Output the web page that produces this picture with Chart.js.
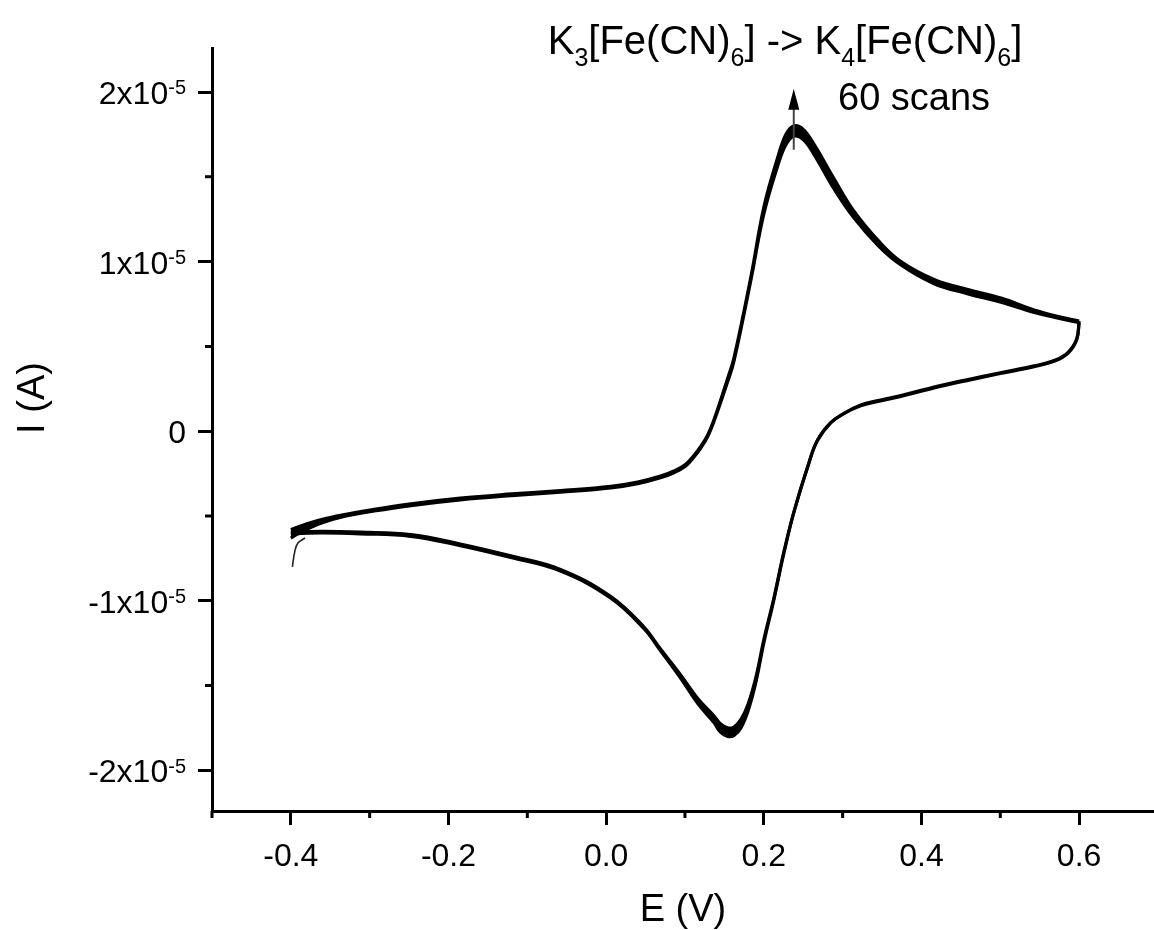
<!DOCTYPE html>
<html>
<head>
<meta charset="utf-8">
<title>K3[Fe(CN)6] cyclic voltammogram</title>
<script src="https://cdn.jsdelivr.net/npm/chart.js@4.4.1/dist/chart.umd.min.js"></script>
<style>
  html, body { margin: 0; padding: 0; background: #fff; overflow: hidden; }
  canvas { display: block; }
</style>
</head>
<body>
<canvas id="cv" width="1154" height="930"></canvas>
<script>
// ── DATA ─────────────────────────────────────────────────────────────
// anodic sweep, -0.4 V -> 0.6 V (current in µA)
const E_FWD = [-0.400, -0.385, -0.360, -0.330, -0.300, -0.250, -0.185, -0.120, -0.058, 0.006,
               0.040, 0.069, 0.086, 0.101, 0.111, 0.120, 0.129, 0.137, 0.154, 0.162,
               0.184, 0.200, 0.218, 0.228, 0.238, 0.250, 0.264, 0.289, 0.314, 0.345,
               0.374, 0.416, 0.459, 0.501, 0.543, 0.575, 0.600];
const I_FWD_SCAN1 = [-6.3, -5.9, -5.4, -5.0, -4.75, -4.4, -4.05, -3.8, -3.6, -3.35,
                     -3.1, -2.75, -2.45, -2.05, -1.55, -1.0, -0.3, 0.6, 2.9, 4.1,
                     9.0, 12.8, 15.7, 16.9, 17.4, 17.2, 16.3, 14.3, 12.6, 10.95,
                     9.8, 8.7, 8.1, 7.6, 7.0, 6.65, 6.4];
const I_FWD_SCAN60 = [-5.8, -5.55, -5.2, -4.9, -4.65, -4.3, -3.95, -3.7, -3.5, -3.25,
                      -3.0, -2.65, -2.35, -1.95, -1.45, -0.9, -0.2, 0.7, 3.1, 4.3,
                      9.2, 13.2, 16.2, 17.5, 18.0, 17.8, 16.9, 14.9, 13.0, 11.25,
                      10.0, 8.95, 8.35, 7.85, 7.15, 6.75, 6.5];

// cathodic sweep, 0.6 V -> -0.4 V
const E_REV = [0.600, 0.597, 0.586, 0.570, 0.543, 0.500, 0.459, 0.416, 0.374, 0.345,
               0.323, 0.302, 0.285, 0.268, 0.257, 0.238, 0.225, 0.213, 0.200, 0.190,
               0.180, 0.171, 0.162, 0.154, 0.145, 0.137, 0.116, 0.095, 0.069, 0.048,
               0.006, -0.058, -0.121, -0.185, -0.248, -0.312, -0.360, -0.400];
const I_REV_SCAN1 = [6.4, 5.4, 4.6, 4.15, 3.8, 3.4, 3.0, 2.55, 2.05, 1.75,
                     1.5, 1.05, 0.5, -0.55, -1.9, -4.8, -7.2, -9.8, -12.3, -14.5,
                     -16.1, -17.0, -17.45, -17.5, -17.25, -16.8, -15.75, -14.4, -12.85, -11.55,
                     -9.75, -8.15, -7.35, -6.65, -6.1, -5.95, -5.9, -5.95];
const I_REV_SCAN60 = [6.5, 5.45, 4.65, 4.2, 3.85, 3.45, 3.05, 2.6, 2.1, 1.8,
                      1.55, 1.05, 0.5, -0.55, -1.9, -4.8, -7.3, -9.9, -12.5, -14.8,
                      -16.5, -17.5, -17.95, -18.0, -17.75, -17.2, -16.05, -14.6, -12.95, -11.65,
                      -9.85, -8.25, -7.45, -6.75, -6.2, -6.05, -6.0, -6.05];

// very first points of scan 1 (open circuit start)
const E_START = [-0.398, -0.395, -0.391, -0.382];
const I_START = [-8.0, -7.1, -6.6, -6.3];

// axes
const X_TICKS = [-0.4, -0.2, 0.0, 0.2, 0.4, 0.6];
const X_TICK_LABELS = ['-0.4', '-0.2', '0.0', '0.2', '0.4', '0.6'];
const X_MINOR = [-0.5, -0.3, -0.1, 0.1, 0.3, 0.5];
const Y_TICKS = [-2e-5, -1e-5, 0, 1e-5, 2e-5];
const Y_TICK_BASE = ['-2x10', '-1x10', '0', '1x10', '2x10'];
const Y_TICK_EXP = ['-5', '-5', '', '-5', '-5'];
const Y_MINOR = [-1.5e-5, -0.5e-5, 0.5e-5, 1.5e-5];

// scan-growth arrow at the anodic peak (µA)
const ARROW_E = 0.238;
const ARROW_FROM = 16.6;
const ARROW_TO = 20.2;

const TITLE_PARTS = [['K', 0], ['3', -1], ['[Fe(CN)', 0], ['6', -1], ['] -> K', 0],
                     ['4', -1], ['[Fe(CN)', 0], ['6', -1], [']', 0]];

// ── HELPERS ──────────────────────────────────────────────────────────
const FONT = '"Liberation Sans", Arial, sans-serif';
const uA = v => v * 1e-6;
const points = (xs, ys) => xs.map((x, i) => ({ x, y: uA(ys[i]) }));

// text with sub/superscript pieces: shift 1 = sup, -1 = sub
function drawRich(ctx, parts, x, y, size, align) {
  const small = Math.round(size * 0.62);
  const widths = parts.map(([t, s]) => {
    ctx.font = `${s ? small : size}px ${FONT}`;
    return ctx.measureText(t).width;
  });
  const total = widths.reduce((a, b) => a + b, 0);
  let cx = align === 'center' ? x - total / 2 : align === 'right' ? x - total : x;
  ctx.textAlign = 'left';
  ctx.textBaseline = 'alphabetic';
  parts.forEach(([t, s], i) => {
    ctx.font = `${s ? small : size}px ${FONT}`;
    const dy = s === 1 ? -size * 0.3 : s === -1 ? size * 0.3 : 0;
    ctx.fillText(t, cx, y + dy);
    cx += widths[i];
  });
}

// ── DECORATIONS (minor ticks, labels, arrow) ─────────────────────────
const decorations = {
  id: 'decorations',
  afterDraw(chart) {
    const { ctx, chartArea: area, scales: { x, y } } = chart;
    ctx.save();

    // minor ticks
    ctx.strokeStyle = '#000';
    ctx.lineWidth = 3;
    ctx.beginPath();
    X_MINOR.forEach(v => {
      const px = x.getPixelForValue(v);
      ctx.moveTo(px, area.bottom);
      ctx.lineTo(px, area.bottom + 7);
    });
    Y_MINOR.forEach(v => {
      const py = y.getPixelForValue(v);
      ctx.moveTo(area.left - 7, py);
      ctx.lineTo(area.left, py);
    });
    ctx.stroke();

    ctx.fillStyle = '#000';

    // x tick labels
    ctx.font = `32px ${FONT}`;
    ctx.textAlign = 'center';
    ctx.textBaseline = 'alphabetic';
    X_TICKS.forEach((v, i) => ctx.fillText(X_TICK_LABELS[i], x.getPixelForValue(v), 866));

    // y tick labels with exponent
    Y_TICKS.forEach((v, i) => {
      const py = y.getPixelForValue(v);
      const parts = [[Y_TICK_BASE[i], 0]];
      if (Y_TICK_EXP[i]) parts.push([Y_TICK_EXP[i], 1]);
      drawRich(ctx, parts, 186, py + 12, 32, 'right');
    });

    // axis titles
    ctx.font = `38px ${FONT}`;
    ctx.textAlign = 'center';
    ctx.fillText('E (V)', (area.left + area.right) / 2, 921);
    ctx.save();
    ctx.translate(44, 398);
    ctx.rotate(-Math.PI / 2);
    ctx.fillText('I (A)', 0, 0);
    ctx.restore();

    // reaction and scan count
    drawRich(ctx, TITLE_PARTS, 785, 54, 40, 'center');
    ctx.font = `38px ${FONT}`;
    ctx.textAlign = 'left';
    ctx.fillText('60 scans', 838, 110);

    // arrow: peak current grows with scan number
    const ax = x.getPixelForValue(ARROW_E);
    const y0 = y.getPixelForValue(uA(ARROW_FROM));
    const y1 = y.getPixelForValue(uA(ARROW_TO));
    ctx.strokeStyle = '#444';
    ctx.lineWidth = 2;
    ctx.beginPath();
    ctx.moveTo(ax, y0);
    ctx.lineTo(ax, y1 + 16);
    ctx.stroke();
    ctx.beginPath();
    ctx.moveTo(ax, y1);
    ctx.lineTo(ax - 5.5, y1 + 21);
    ctx.lineTo(ax + 5.5, y1 + 21);
    ctx.closePath();
    ctx.fill();

    ctx.restore();
  }
};

// ── CHART ────────────────────────────────────────────────────────────
const line = { showLine: true, borderColor: '#000', borderWidth: 3.2, pointRadius: 0, tension: 0.4 };

new Chart(document.getElementById('cv'), {
  type: 'scatter',
  data: {
    datasets: [
      { ...line, label: 'scan 1 (anodic)', data: points(E_FWD, I_FWD_SCAN1), fill: false },
      { ...line, label: 'scan 60 (anodic)', data: points(E_FWD, I_FWD_SCAN60), fill: '-1', backgroundColor: '#000' },
      { ...line, label: 'scan 1 (cathodic)', data: points(E_REV, I_REV_SCAN1), fill: false },
      { ...line, label: 'scan 60 (cathodic)', data: points(E_REV, I_REV_SCAN60), fill: '-1', backgroundColor: '#000' },
      { ...line, label: 'start', data: points(E_START, I_START), borderWidth: 1.6, borderColor: '#222', fill: false },
    ]
  },
  options: {
    responsive: false,
    animation: false,
    events: [],
    layout: { padding: { left: 198, right: 0, top: 48, bottom: 105 } },
    plugins: { legend: { display: false }, tooltip: { enabled: false } },
    scales: {
      x: {
        type: 'linear',
        min: -0.5,
        max: 0.695,
        afterBuildTicks: s => { s.ticks = X_TICKS.map(v => ({ value: v })); },
        ticks: { display: false },
        grid: { drawOnChartArea: false, drawTicks: true, tickLength: 14, tickWidth: 3, tickColor: '#000' },
        border: { display: true, color: '#000', width: 3 }
      },
      y: {
        type: 'linear',
        min: -2.24e-5,
        max: 2.26e-5,
        afterBuildTicks: s => { s.ticks = Y_TICKS.map(v => ({ value: v })); },
        ticks: { display: false },
        grid: { drawOnChartArea: false, drawTicks: true, tickLength: 14, tickWidth: 3, tickColor: '#000' },
        border: { display: true, color: '#000', width: 3 }
      }
    }
  },
  plugins: [decorations]
});
</script>
</body>
</html>
